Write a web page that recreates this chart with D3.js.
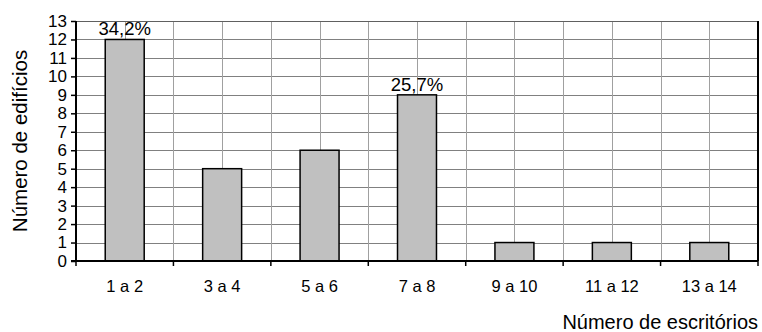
<!DOCTYPE html>
<html>
<head>
<meta charset="utf-8">
<script src="https://cdn.jsdelivr.net/npm/d3@7"></script>
<style>
  html, body { margin: 0; padding: 0; background: #fff; }
  svg { display: block; font-family: Arial, "Liberation Sans", sans-serif; }
</style>
</head>
<body>
<svg id="chart" width="762" height="332"></svg>
<script>
// Building count by office-range
const categories = ["1 a 2", "3 a 4", "5 a 6", "7 a 8", "9 a 10", "11 a 12", "13 a 14"];
const buildings = [12, 5, 6, 9, 1, 1, 1];
const shareLabels = ["34,2%", null, null, "25,7%", null, null, null];
const yTicks = d3.range(0, 14);

const svg = d3.select("#chart");
const m = { left: 76, right: 4, top: 21, bottom: 71 };
const W = 762, H = 332;
const iw = W - m.left - m.right, ih = H - m.top - m.bottom;
const g = svg.append("g").attr("transform", `translate(${m.left},${m.top})`);

const x = d3.scaleBand().domain(categories).range([0, iw]).paddingInner(0.6).paddingOuter(0.3);
const y = d3.scaleLinear().domain([0, 13]).range([ih, 0]);
const step = x.step();

// horizontal gridlines
g.append("g").selectAll("line").data(yTicks.filter(d => d > 0)).join("line")
  .attr("x1", 0).attr("x2", iw)
  .attr("y1", d => Math.round(y(d)) + 0.5).attr("y2", d => Math.round(y(d)) + 0.5)
  .attr("stroke", "#808080").attr("stroke-width", 1);

// vertical gridlines at every half category
const vLines = d3.range(1, categories.length * 2).map(i => i * step / 2);
g.append("g").selectAll("line").data(vLines).join("line")
  .attr("x1", d => Math.round(d) + 0.5).attr("x2", d => Math.round(d) + 0.5)
  .attr("y1", 0).attr("y2", ih)
  .attr("stroke", "#a0a0a0").attr("stroke-width", 1);

// bars
g.append("g").selectAll("rect").data(buildings).join("rect")
  .attr("x", (d, i) => x(categories[i]))
  .attr("y", d => y(d))
  .attr("width", x.bandwidth())
  .attr("height", d => ih - y(d))
  .attr("fill", "#c0c0c0")
  .attr("stroke", "#000").attr("stroke-width", 1.5);

// frame
g.append("line").attr("x1", 0).attr("x2", iw).attr("y1", 0.5).attr("y2", 0.5)
  .attr("stroke", "#606060").attr("stroke-width", 1);
g.append("line").attr("x1", iw).attr("x2", iw).attr("y1", 0).attr("y2", ih)
  .attr("stroke", "#000").attr("stroke-width", 2);

// y axis
const yAxis = g.append("g")
  .call(d3.axisLeft(y).tickValues(yTicks).tickSize(5).tickPadding(4).tickFormat(d3.format("d")));
yAxis.attr("font-family", null).attr("font-size", null);
yAxis.select(".domain").attr("stroke", "#000").attr("stroke-width", 2).attr("d", `M0,0V${ih}`);
yAxis.selectAll(".tick line").attr("stroke", "#000").attr("stroke-width", 1.5);
yAxis.selectAll("text").attr("font-size", 17).attr("fill", "#000");

// x axis with ticks at category boundaries
const xAxisG = g.append("g").attr("transform", `translate(0,${ih})`);
xAxisG.append("line").attr("x1", -5).attr("x2", iw).attr("y1", 0).attr("y2", 0)
  .attr("stroke", "#000").attr("stroke-width", 2);
xAxisG.selectAll("line.tk").data(d3.range(0, categories.length + 1)).join("line")
  .attr("class", "tk")
  .attr("x1", i => i * step).attr("x2", i => i * step)
  .attr("y1", 0).attr("y2", 5)
  .attr("stroke", "#000").attr("stroke-width", 1.5);
xAxisG.selectAll("text").data(categories).join("text")
  .attr("x", d => x(d) + x.bandwidth() / 2)
  .attr("y", 31)
  .attr("text-anchor", "middle")
  .attr("font-size", 16.5)
  .text(d => d);

// percentage labels above selected bars
const labelled = categories.map((c, i) => ({ c, v: buildings[i], t: shareLabels[i] })).filter(d => d.t);
g.append("g").selectAll("text").data(labelled).join("text")
  .attr("x", d => x(d.c) + x.bandwidth() / 2)
  .attr("y", d => y(d.v) - 4)
  .attr("text-anchor", "middle")
  .attr("font-size", 18.5)
  .text(d => d.t);

// axis titles
svg.append("text")
  .attr("transform", `translate(27,${m.top + ih / 2}) rotate(-90)`)
  .attr("text-anchor", "middle")
  .attr("font-size", 20.5)
  .text("Número de edifícios");
svg.append("text")
  .attr("x", 758).attr("y", 329)
  .attr("text-anchor", "end")
  .attr("font-size", 20)
  .text("Número de escritórios");
</script>
</body>
</html>
